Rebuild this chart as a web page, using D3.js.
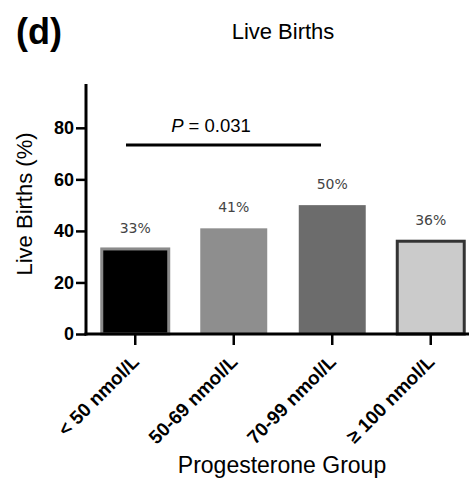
<!DOCTYPE html>
<html>
<head>
<meta charset="utf-8">
<script src="https://cdn.jsdelivr.net/npm/d3@7"></script>
<style>
  body { margin: 0; background: #fff; }
  svg { font-family: "Liberation Sans", Arial, sans-serif; }
</style>
</head>
<body>
<div id="chart"></div>
<script>
var groups = ["< 50 nmol/L", "50-69 nmol/L", "70-99 nmol/L", "\u2265 100 nmol/L"];
var births = [33, 41, 50, 36];
var barLabels = ["33%", "41%", "50%", "36%"];
var yTicks = [0, 20, 40, 60, 80];
var fills = ["#000000", "#8e8e8e", "#6c6c6c", "#cbcbcb"];
var strokes = ["#8a8a8a", "none", "none", "#333333"];

var width = 469, height = 481;
var x0 = 86, y0 = 334;

var svg = d3.select("#chart").append("svg")
    .attr("width", width)
    .attr("height", height);

var xScale = d3.scaleBand()
    .domain(groups)
    .range([x0, 480])
    .paddingInner(0.32)
    .paddingOuter(0.16);

var yScale = d3.scaleLinear()
    .domain([0, 97])
    .range([y0, 84]);

// Bars
svg.append("g").selectAll("rect")
    .data(groups)
  .enter().append("rect")
    .attr("x", function(d) { return xScale(d); })
    .attr("y", function(d, i) { return yScale(births[i]); })
    .attr("width", xScale.bandwidth())
    .attr("height", function(d, i) { return y0 - yScale(births[i]); })
    .style("fill", function(d, i) { return fills[i]; })
    .style("stroke", function(d, i) { return strokes[i]; })
    .style("stroke-width", 3);

// Value labels
svg.append("g").selectAll("text")
    .data(groups)
  .enter().append("text")
    .attr("x", function(d) { return xScale(d) + xScale.bandwidth() / 2; })
    .attr("y", function(d, i) { return yScale(births[i]) - 16; })
    .attr("text-anchor", "middle")
    .style("font-family", "'DejaVu Sans', sans-serif")
    .style("font-size", "14px")
    .style("fill", "#444")
    .text(function(d, i) { return barLabels[i]; });

// Y axis
var yAxis = svg.append("g")
    .attr("transform", "translate(" + x0 + ",0)")
    .call(d3.axisLeft(yScale).tickValues(yTicks).tickSize(10).tickPadding(2).tickSizeOuter(0));
yAxis.select(".domain").attr("stroke-width", 3).attr("d", "M0," + (y0 + 1.5) + "V84");
yAxis.selectAll(".tick line").attr("stroke-width", 2.5);
yAxis.selectAll(".tick text")
    .style("font-family", "'Liberation Sans', Arial, sans-serif")
    .style("font-size", "18px")
    .style("font-weight", "bold")
    .attr("fill", "#000");

// X axis
var xAxis = svg.append("g")
    .attr("transform", "translate(0," + y0 + ")")
    .call(d3.axisBottom(xScale).tickSize(11).tickSizeOuter(0));
xAxis.select(".domain").attr("stroke-width", 3).attr("d", "M" + (x0 - 1.5) + ",0H480");
xAxis.selectAll(".tick line").attr("stroke-width", 2.5);
xAxis.selectAll(".tick text")
    .attr("text-anchor", "end")
    .attr("y", 0)
    .attr("dy", 0)
    .attr("transform", "translate(5,29) rotate(-45)")
    .style("font-family", "'Liberation Sans', Arial, sans-serif")
    .style("font-size", "19px")
    .style("font-weight", "bold")
    .attr("fill", "#000");

// Significance bar
svg.append("line")
    .attr("x1", 126).attr("x2", 321)
    .attr("y1", 145).attr("y2", 145)
    .attr("stroke", "#000")
    .attr("stroke-width", 3);

var pText = svg.append("text")
    .attr("x", 211)
    .attr("y", 132)
    .attr("text-anchor", "middle")
    .style("font-size", "18.5px");
pText.append("tspan").style("font-style", "italic").text("P");
pText.append("tspan").text(" = 0.031");

// Titles
svg.append("text")
    .attr("x", 16)
    .attr("y", 44)
    .style("font-size", "36px")
    .style("font-weight", "bold")
    .text("(d)");

svg.append("text")
    .attr("x", 283)
    .attr("y", 39)
    .attr("text-anchor", "middle")
    .style("font-size", "22px")
    .text("Live Births");

svg.append("text")
    .attr("transform", "translate(32,204) rotate(-90)")
    .attr("text-anchor", "middle")
    .style("font-size", "22px")
    .text("Live Births (%)");

svg.append("text")
    .attr("x", 282)
    .attr("y", 473)
    .attr("text-anchor", "middle")
    .style("font-size", "23px")
    .text("Progesterone Group");
</script>
</body>
</html>
